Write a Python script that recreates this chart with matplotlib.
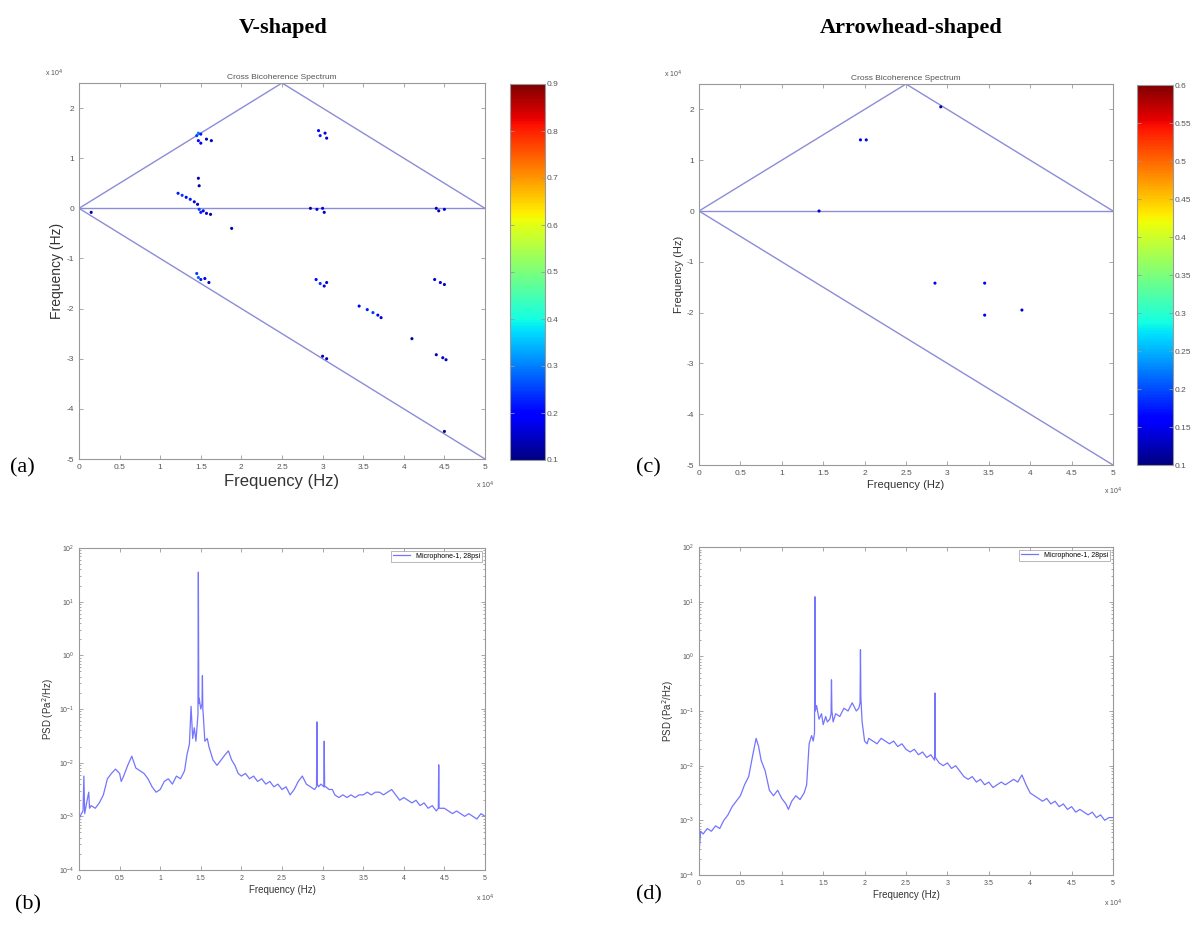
import matplotlib

matplotlib.use("Agg")
import matplotlib.pyplot as plt
import numpy as np
from matplotlib.ticker import LogLocator, NullFormatter, FixedLocator

plt.rcParams["font.family"] = ["Liberation Sans", "DejaVu Sans"]
plt.rcParams["axes.unicode_minus"] = False

W, H = 1196, 925

# ---- cross bicoherence points (f1, f2 in x10^4 Hz, coherence value) ----
a_f1 = [1.45, 1.47, 1.50, 1.47, 1.50, 1.57, 1.63,
        2.95, 2.97, 3.03, 3.05,
        1.47, 1.48,
        1.22, 1.27, 1.32, 1.37, 1.42, 1.46,
        1.48, 1.50, 1.53, 1.57, 1.62,
        1.88, 0.15,
        2.85, 2.93, 3.00, 3.02,
        4.40, 4.43, 4.50,
        1.45, 1.47, 1.50, 1.55, 1.60,
        2.92, 2.97, 3.02, 3.05,
        3.45, 3.55, 3.62, 3.68, 3.72,
        4.10,
        4.38, 4.45, 4.50,
        3.00, 3.05,
        4.40, 4.48, 4.52,
        4.50]
a_f2 = [1.45, 1.50, 1.48, 1.35, 1.30, 1.38, 1.35,
        1.55, 1.45, 1.50, 1.40,
        0.60, 0.45,
        0.30, 0.26, 0.22, 0.18, 0.13, 0.08,
        -0.02, -0.08, -0.05, -0.10, -0.12,
        -0.40, -0.08,
        0.00, -0.02, 0.00, -0.08,
        0.00, -0.05, -0.02,
        -1.30, -1.38, -1.42, -1.40, -1.48,
        -1.42, -1.50, -1.55, -1.48,
        -1.95, -2.02, -2.08, -2.13, -2.18,
        -2.60,
        -1.42, -1.48, -1.52,
        -2.95, -3.00,
        -2.92, -2.98, -3.02,
        -4.45]
a_val = [0.25, 0.30, 0.22, 0.20, 0.18, 0.15, 0.14,
         0.20, 0.22, 0.18, 0.16,
         0.13, 0.12,
         0.22, 0.25, 0.20, 0.22, 0.18, 0.15,
         0.25, 0.22, 0.18, 0.16, 0.14,
         0.13, 0.13,
         0.14, 0.16, 0.18, 0.15,
         0.15, 0.14, 0.16,
         0.25, 0.28, 0.22, 0.18, 0.15,
         0.20, 0.24, 0.18, 0.16,
         0.18, 0.22, 0.25, 0.20, 0.16,
         0.13,
         0.16, 0.18, 0.15,
         0.14, 0.13,
         0.15, 0.17, 0.14,
         0.13]

c_f1 = [1.95, 2.02, 1.45, 2.85, 3.45, 3.45, 3.90, 2.92]
c_f2 = [1.40, 1.40, 0.00, -1.42, -1.42, -2.05, -1.95, 2.05]
c_val = [0.15, 0.15, 0.14, 0.15, 0.16, 0.15, 0.14, 0.12]

# ---- PSD spectra (frequency in x10^4 Hz, log10 PSD) ----
b_freq = [0.00, 0.03, 0.05, 0.06, 0.07, 0.10, 0.12, 0.13, 0.15, 0.20, 0.25,
          0.30, 0.35, 0.40, 0.45, 0.50, 0.52, 0.55, 0.60, 0.65, 0.70, 0.75,
          0.80, 0.85, 0.90, 0.95, 1.00, 1.05, 1.10, 1.15, 1.20, 1.25, 1.30,
          1.33, 1.36, 1.38, 1.40, 1.42, 1.44, 1.46, 1.465, 1.47, 1.475, 1.48,
          1.50, 1.515, 1.52, 1.525, 1.53, 1.55, 1.58, 1.60, 1.65, 1.70, 1.75,
          1.80, 1.84, 1.88, 1.92, 1.96, 2.00, 2.05, 2.10, 2.15, 2.20, 2.25,
          2.30, 2.35, 2.40, 2.45, 2.50, 2.55, 2.60, 2.65, 2.70, 2.75, 2.80,
          2.85, 2.90, 2.925, 2.93, 2.935, 2.95, 2.98, 3.015, 3.02, 3.025,
          3.04, 3.08, 3.12, 3.15, 3.20, 3.25, 3.30, 3.35, 3.40, 3.45, 3.50,
          3.55, 3.60, 3.65, 3.70, 3.75, 3.80, 3.85, 3.90, 3.95, 4.00, 4.05,
          4.10, 4.15, 4.20, 4.25, 4.30, 4.35, 4.40, 4.425, 4.43, 4.435, 4.45,
          4.50, 4.55, 4.60, 4.65, 4.70, 4.75, 4.80, 4.85, 4.90, 4.95, 5.00]
b_log = [-3.05, -2.95, -2.90, -2.25, -2.95, -2.70, -2.55, -2.85, -2.80, -2.85, -2.75,
         -2.60, -2.30, -2.20, -2.12, -2.20, -2.35, -2.25, -2.05, -1.88, -2.10, -2.15,
         -2.20, -2.30, -2.45, -2.55, -2.50, -2.35, -2.30, -2.40, -2.25, -2.30, -2.15,
         -1.85, -1.65, -0.95, -1.55, -1.35, -1.60, -1.20, -1.10, 1.55, -0.90, -0.80,
         -1.00, -0.90, -0.38, -1.00, -1.10, -1.60, -1.55, -1.70, -1.95, -2.05, -1.95,
         -1.85, -1.78, -1.95, -2.05, -2.20, -2.25, -2.20, -2.30, -2.25, -2.35, -2.30,
         -2.40, -2.35, -2.45, -2.40, -2.50, -2.45, -2.60, -2.50, -2.35, -2.25, -2.40,
         -2.45, -2.50, -2.45, -1.24, -2.40, -2.45, -2.40, -2.45, -1.60, -2.45,
         -2.45, -2.50, -2.50, -2.60, -2.65, -2.60, -2.65, -2.60, -2.65, -2.60, -2.60,
         -2.55, -2.60, -2.55, -2.55, -2.60, -2.55, -2.50, -2.60, -2.70, -2.65, -2.70,
         -2.75, -2.70, -2.80, -2.75, -2.85, -2.80, -2.90, -2.85, -2.04, -2.85, -2.85,
         -2.85, -2.90, -2.95, -2.90, -2.95, -3.00, -2.95, -3.00, -3.05, -2.95, -3.00]

d_freq = [0.00, 0.02, 0.05, 0.10, 0.15, 0.20, 0.25, 0.30, 0.35, 0.40, 0.45,
          0.50, 0.55, 0.60, 0.65, 0.69, 0.72, 0.75, 0.80, 0.85, 0.90, 0.95,
          1.00, 1.05, 1.08, 1.12, 1.17, 1.22, 1.27, 1.30, 1.33, 1.36, 1.38,
          1.395, 1.40, 1.405, 1.42, 1.45, 1.48, 1.50, 1.53, 1.55, 1.58, 1.595,
          1.60, 1.605, 1.62, 1.65, 1.70, 1.75, 1.80, 1.85, 1.90, 1.93, 1.945,
          1.95, 1.955, 1.97, 2.00, 2.03, 2.05, 2.10, 2.15, 2.20, 2.25, 2.30,
          2.35, 2.40, 2.45, 2.50, 2.55, 2.60, 2.65, 2.70, 2.75, 2.80, 2.845,
          2.85, 2.855, 2.90, 2.95, 3.00, 3.05, 3.10, 3.15, 3.20, 3.25, 3.30,
          3.35, 3.40, 3.45, 3.50, 3.55, 3.60, 3.65, 3.70, 3.75, 3.80, 3.85,
          3.90, 3.95, 4.00, 4.05, 4.10, 4.15, 4.20, 4.25, 4.30, 4.35, 4.40,
          4.45, 4.50, 4.55, 4.60, 4.65, 4.70, 4.75, 4.80, 4.85, 4.90, 4.95, 5.00]
d_log = [-3.60, -3.20, -3.25, -3.15, -3.20, -3.10, -3.15, -3.00, -2.90, -2.75, -2.65,
         -2.55, -2.35, -2.20, -1.80, -1.50, -1.65, -1.90, -2.10, -2.45, -2.55, -2.45,
         -2.60, -2.70, -2.80, -2.65, -2.55, -2.62, -2.50, -2.35, -1.60, -1.45, -1.55,
         -1.40, 1.09, -1.00, -0.90, -1.15, -1.05, -1.25, -1.10, -1.20, -1.15, -1.05,
         -0.43, -1.00, -1.20, -1.05, -1.10, -0.95, -1.00, -0.85, -1.00, -0.95, -0.85,
         0.12, -0.75, -1.20, -1.55, -1.60, -1.50, -1.55, -1.60, -1.50, -1.55, -1.60,
         -1.55, -1.65, -1.60, -1.70, -1.75, -1.70, -1.80, -1.75, -1.85, -1.80, -1.90,
         -0.67, -1.85, -1.95, -2.00, -1.95, -2.05, -2.00, -2.10, -2.20, -2.25, -2.20,
         -2.30, -2.25, -2.35, -2.30, -2.40, -2.35, -2.30, -2.35, -2.30, -2.25, -2.30,
         -2.17, -2.35, -2.50, -2.55, -2.60, -2.65, -2.60, -2.70, -2.65, -2.75, -2.70,
         -2.80, -2.75, -2.85, -2.80, -2.85, -2.90, -2.85, -2.95, -2.90, -3.00, -2.95, -2.95]

LEGEND_TXT = "Microphone-1, 28psi"
GRAY = "#555555"
TRI_COLOR = "#8c8cd8"
PSD_COLOR = "#7474ff"


def px_axes(fig, x0, y0, x1, y1):
    return fig.add_axes([x0 / W, 1 - y1 / H, (x1 - x0) / W, (y1 - y0) / H])


def style_axes(ax):
    for s in ax.spines.values():
        s.set_color("#999999")
        s.set_linewidth(0.8)
    ax.tick_params(which="both", direction="in", top=True, right=True,
                   colors="#999999", labelcolor=GRAY, labelsize=6, length=3, width=0.6)
    ax.tick_params(which="minor", length=1.5)


def bicoherence(fig, box, cbox, f1, f2, vals, vmax, cticks, big_labels):
    ax = px_axes(fig, *box)
    ax.plot([0, 2.5, 5], [0, 2.5, 0], color=TRI_COLOR, lw=1.0)
    ax.plot([0, 5], [0, 0], color=TRI_COLOR, lw=1.0)
    ax.plot([0, 5], [0, -5], color=TRI_COLOR, lw=1.0)
    sc = ax.scatter(f1, f2, c=vals, cmap="jet", vmin=0.1, vmax=vmax, s=5,
                    marker="o", linewidths=0, zorder=3)
    ax.set_xlim(0, 5)
    ax.set_ylim(-5, 2.5)
    ax.set_xticks(np.arange(0, 5.01, 0.5))
    ax.set_xticklabels(["0", "0.5", "1", "1.5", "2", "2.5", "3", "3.5", "4", "4.5", "5"])
    ax.set_yticks(np.arange(-5, 2.01, 1))
    style_axes(ax)
    ax.set_title("Cross Bicoherence Spectrum", fontsize=6, color=GRAY, pad=3)
    if big_labels:
        ax.set_xlabel("Frequency (Hz)", fontsize=12, color="#333333", labelpad=2)
        ax.set_ylabel("Frequency (Hz)", fontsize=10, color="#333333", labelpad=2)
    else:
        ax.set_xlabel("Frequency (Hz)", fontsize=8, color="#333333", labelpad=2)
        ax.set_ylabel("Frequency (Hz)", fontsize=8, color="#333333", labelpad=2)
    ax.text(-0.04, 1.01, r"x 10$^4$", transform=ax.transAxes, fontsize=5,
            color=GRAY, ha="right", va="bottom")
    ax.text(1.0, -0.055, r"x 10$^4$", transform=ax.transAxes, fontsize=5,
            color=GRAY, ha="center", va="top")

    cax = px_axes(fig, *cbox)
    cb = fig.colorbar(sc, cax=cax)
    cb.set_ticks(cticks)
    cb.ax.set_yticklabels([f"{t:g}" for t in cticks])
    cb.outline.set_edgecolor("#999999")
    cb.ax.tick_params(direction="in", colors="#999999", labelcolor=GRAY,
                      labelsize=6, length=3, width=0.6, left=True, right=True, pad=1)
    return ax


def psd(fig, box, freq, logvals):
    ax = px_axes(fig, *box)
    ax.semilogy(freq, 10.0 ** np.array(logvals), color=PSD_COLOR, lw=0.9,
                label=LEGEND_TXT)
    ax.set_xlim(0, 5)
    ax.set_ylim(1e-4, 1e2)
    ax.set_xticks(np.arange(0, 5.01, 0.5))
    ax.set_xticklabels(["0", "0.5", "1", "1.5", "2", "2.5", "3", "3.5", "4", "4.5", "5"])
    ax.yaxis.set_major_locator(FixedLocator([10.0 ** k for k in range(-4, 3)]))
    ax.yaxis.set_minor_locator(LogLocator(base=10, subs=np.arange(2, 10)))
    ax.yaxis.set_minor_formatter(NullFormatter())
    style_axes(ax)
    ax.tick_params(labelsize=5)
    ax.set_xlabel("Frequency (Hz)", fontsize=7, color="#333333", labelpad=2)
    ax.set_ylabel(r"PSD (Pa$^2$/Hz)", fontsize=7, color="#333333", labelpad=2)
    ax.text(1.0, -0.07, r"x 10$^4$", transform=ax.transAxes, fontsize=5,
            color=GRAY, ha="center", va="top")
    leg = ax.legend(loc="upper right", fontsize=5, frameon=True, fancybox=False,
                    borderpad=0.3, handlelength=2.5, borderaxespad=0.4)
    leg.get_frame().set_edgecolor("#999999")
    leg.get_frame().set_linewidth(0.6)
    return ax


fig = plt.figure(figsize=(W / 100, H / 100), dpi=100)

fig.text(283 / W, 1 - 28 / H, "V-shaped", fontsize=16, fontweight="bold",
         family="Liberation Serif", ha="center", va="center")
fig.text(911 / W, 1 - 28 / H, "Arrowhead-shaped", fontsize=16, fontweight="bold",
         family="Liberation Serif", ha="center", va="center")

bicoherence(fig, (79, 83, 485, 459), (510, 84, 545, 460), a_f1, a_f2, a_val,
            0.9, np.round(np.arange(0.1, 0.91, 0.1), 2), True)
bicoherence(fig, (699, 84, 1113, 465), (1137, 85, 1173, 465), c_f1, c_f2, c_val,
            0.6, np.round(np.arange(0.1, 0.601, 0.05), 2), False)

psd(fig, (79, 548, 485, 870), b_freq, b_log)
psd(fig, (699, 547, 1113, 875), d_freq, d_log)

for lbl, x, y in [("(a)", 10, 468), ("(c)", 636, 468), ("(b)", 15, 905), ("(d)", 636, 895)]:
    fig.text(x / W, 1 - y / H, lbl, fontsize=16, family="Liberation Serif",
             ha="left", va="center")

fig.savefig("out.png", dpi=100)
